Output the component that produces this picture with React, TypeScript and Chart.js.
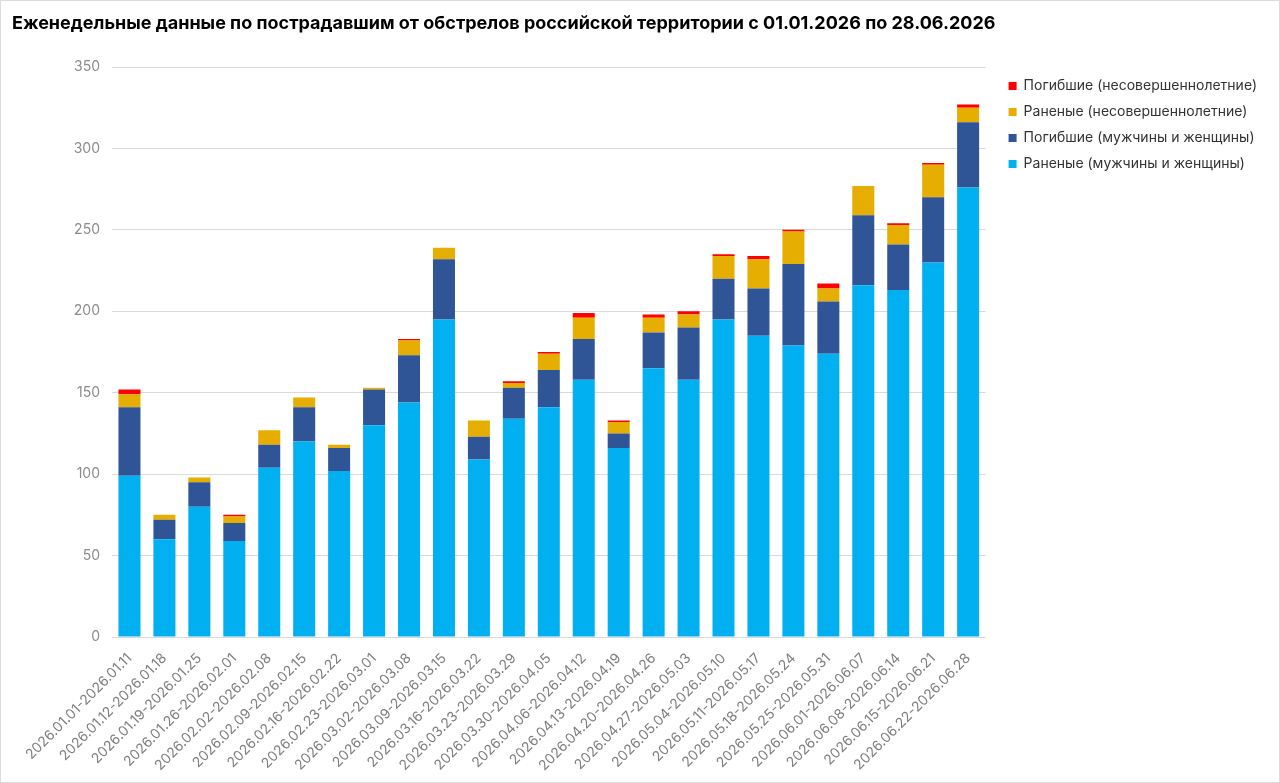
import { useEffect, useRef } from "react";
import { Chart, ChartConfiguration, registerables } from "chart.js";

Chart.register(...registerables);

const weeks = [
  "2026.01.01-2026.01.11",
  "2026.01.12-2026.01.18",
  "2026.01.19-2026.01.25",
  "2026.01.26-2026.02.01",
  "2026.02.02-2026.02.08",
  "2026.02.09-2026.02.15",
  "2026.02.16-2026.02.22",
  "2026.02.23-2026.03.01",
  "2026.03.02-2026.03.08",
  "2026.03.09-2026.03.15",
  "2026.03.16-2026.03.22",
  "2026.03.23-2026.03.29",
  "2026.03.30-2026.04.05",
  "2026.04.06-2026.04.12",
  "2026.04.13-2026.04.19",
  "2026.04.20-2026.04.26",
  "2026.04.27-2026.05.03",
  "2026.05.04-2026.05.10",
  "2026.05.11-2026.05.17",
  "2026.05.18-2026.05.24",
  "2026.05.25-2026.05.31",
  "2026.06.01-2026.06.07",
  "2026.06.08-2026.06.14",
  "2026.06.15-2026.06.21",
  "2026.06.22-2026.06.28",
];

// Раненые (мужчины и женщины)
const woundedAdults = [99, 60, 80, 59, 104, 120, 102, 130, 144, 195, 109, 134, 141, 158, 116, 165, 158, 195, 185, 179, 174, 216, 213, 230, 276];
// Погибшие (мужчины и женщины)
const killedAdults = [42, 12, 15, 11, 14, 21, 14, 22, 29, 37, 14, 19, 23, 25, 9, 22, 32, 25, 29, 50, 32, 43, 28, 40, 40];
// Раненые (несовершеннолетние)
const woundedMinors = [8, 3, 3, 4, 9, 6, 2, 1, 9, 7, 10, 3, 10, 13, 7, 9, 8, 14, 18, 20, 8, 18, 12, 20, 9];
// Погибшие (несовершеннолетние)
const killedMinors = [3, 0, 0, 1, 0, 0, 0, 0, 1, 0, 0, 1, 1, 3, 1, 2, 2, 1, 2, 1, 3, 0, 1, 1, 2];

const yTicks = { min: 0, max: 350, step: 50 };

const FONT = "Inter, 'Noto Sans', sans-serif";

// сдвигаем легенду вправо: отступ от области графика больше, чем между строками
const LEGEND_SHIFT = 11;
const legendShiftPlugin = {
  id: "legendShift",
  afterLayout(chart: Chart) {
    const legend = (chart as any).legend;
    if (!legend) return;
    legend.left += LEGEND_SHIFT;
    legend.right += LEGEND_SHIFT;
  },
};

const App: React.FC = () => {
  const canvasRef = useRef<HTMLCanvasElement | null>(null);
  const chartRef = useRef<Chart | null>(null);

  useEffect(() => {
    if (!canvasRef.current) return;
    const ctx = canvasRef.current.getContext("2d");
    if (!ctx) return;

    const config: ChartConfiguration<"bar"> = {
      type: "bar",
      data: {
        labels: weeks,
        datasets: [
          { label: "Раненые (мужчины и женщины)", data: woundedAdults, backgroundColor: "#00B0F0" },
          { label: "Погибшие (мужчины и женщины)", data: killedAdults, backgroundColor: "#2F5597" },
          { label: "Раненые (несовершеннолетние)", data: woundedMinors, backgroundColor: "#E6AE00" },
          { label: "Погибшие (несовершеннолетние)", data: killedMinors, backgroundColor: "#FF0000" },
        ],
      },
      plugins: [legendShiftPlugin],
      options: {
        responsive: true,
        maintainAspectRatio: false,
        animation: false,
        datasets: {
          bar: {
            borderWidth: 0,
            barPercentage: 0.63,
            categoryPercentage: 1,
          },
        },
        layout: { padding: { left: 11, right: 23, top: 0, bottom: 0 } },
        plugins: {
          title: {
            display: true,
            align: "start",
            text: "Еженедельные данные по пострадавшим от обстрелов российской территории с 01.01.2026 по 28.06.2026",
            color: "#000000",
            font: { family: FONT, size: 18, weight: "bold" },
            padding: { top: 12, bottom: 32.4 },
          },
          legend: {
            display: true,
            position: "right",
            align: "start",
            fullSize: false,
            reverse: true,
            labels: {
              boxWidth: 8,
              boxHeight: 8,
              padding: 12,
              color: "#333333",
              font: { family: FONT, size: 14 },
            },
          },
          tooltip: { enabled: false },
        },
        scales: {
          x: {
            stacked: true,
            grid: { display: false },
            border: { display: false },
            ticks: {
              autoSkip: false,
              minRotation: 45,
              maxRotation: 45,
              padding: 5,
              color: "#7f7f7f",
              font: { family: FONT, size: 14 },
            },
            afterFit: (scale) => {
              scale.height = 145;
            },
          },
          y: {
            stacked: true,
            min: yTicks.min,
            max: yTicks.max,
            border: { display: false },
            grid: { color: "#d9d9d9", drawTicks: false },
            ticks: {
              stepSize: yTicks.step,
              padding: 12,
              color: "#8c8c8c",
              font: { family: FONT, size: 14 },
            },
            afterFit: (scale) => {
              scale.width = 100;
            },
          },
        },
      },
    };

    chartRef.current = new Chart(ctx, config);

    return () => {
      chartRef.current?.destroy();
      chartRef.current = null;
    };
  }, []);

  return (
    <div
      style={{
        position: "absolute",
        left: 0,
        top: 0,
        width: 1280,
        height: 783,
        boxSizing: "border-box",
        border: "1px solid #dcdcdc",
        background: "#ffffff",
      }}
    >
      <div style={{ position: "relative", width: "100%", height: "100%" }}>
        <canvas ref={canvasRef} />
      </div>
    </div>
  );
};

export default App;
